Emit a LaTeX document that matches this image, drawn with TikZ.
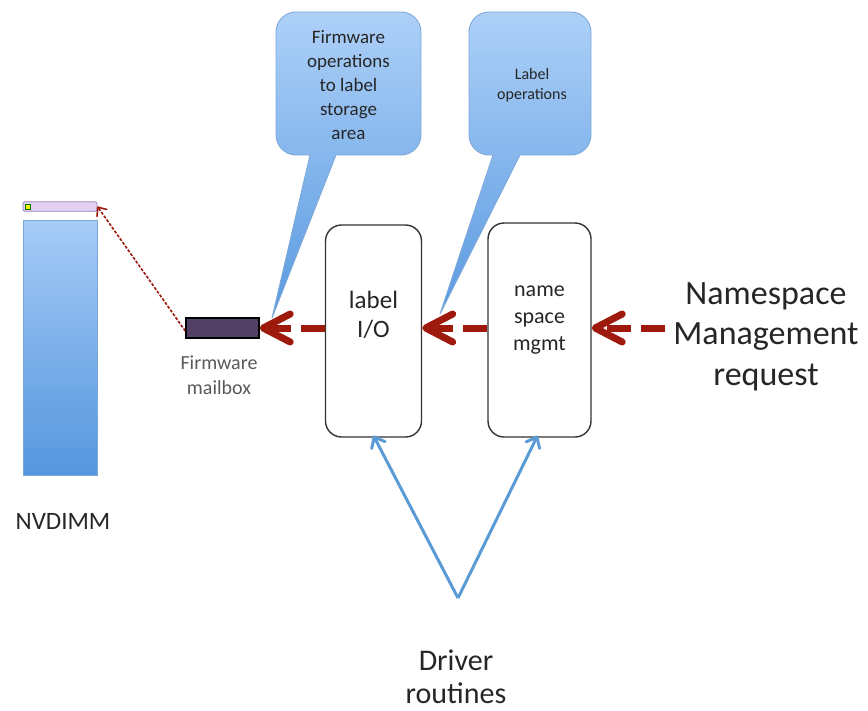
\documentclass[tikz,border=0pt]{standalone}
\usepackage{fontspec}
\setmainfont{Carlito}
\usetikzlibrary{arrows.meta}

\definecolor{txt}{HTML}{262626}
\definecolor{flowred}{HTML}{9E1A0C}
\definecolor{drvblue}{HTML}{5B9BD5}
\definecolor{dimmtop}{HTML}{A6CBF7}
\definecolor{dimmbot}{HTML}{5596DE}
\definecolor{dimmedge}{HTML}{7AA6DA}
\definecolor{striplav}{HTML}{E2D2F0}
\definecolor{stripedge}{HTML}{9A82BD}
\definecolor{mailfill}{HTML}{524066}
\definecolor{calltop}{HTML}{ADD0F8}
\definecolor{callbot}{HTML}{5A9AE0}
\definecolor{calledge}{HTML}{7FA9D9}

\tikzset{
  procbox/.style={draw=black!80, line width=1.4pt, rounded corners=16pt,
    inner sep=0pt, fill=white},
  plaintext/.style={text=txt, align=center, inner sep=0pt},
  callout/.style={top color=calltop, bottom color=callbot, draw=calledge, line width=0.9pt},
  flowarrow/.style={draw=flowred, line width=7pt, dash pattern=on 24pt off 10pt,
    -{Straight Barb[length=27pt, width=28pt, line cap=round, line join=round]}},
  fwarrow/.style={draw=flowred, line width=1.6pt, dash pattern=on 3pt off 1.6pt,
    -{Straight Barb[length=7pt, width=12pt, line cap=round, line join=round]}},
  drvarrow/.style={draw=drvblue, line width=3pt,
    -{Straight Barb[length=9pt, width=15pt, line cap=round, line join=round]}},
}

\begin{document}
\begin{tikzpicture}[x=1pt, y=-1pt]
\useasboundingbox (0,0) rectangle (868,710);

% NVDIMM module with its label strip
\node[draw=dimmedge, line width=0.8pt, top color=dimmtop, bottom color=dimmbot,
      minimum width=74pt, minimum height=255pt, inner sep=0pt] (dimm) at (60,347.5) {};
\node[draw=stripedge, line width=0.8pt, fill=striplav, rounded corners=1.5pt,
      minimum width=74pt, minimum height=9.5pt, inner sep=0pt] (strip) at (60,206.5) {};
\node[draw=black!55!green, line width=0.6pt, fill=yellow, minimum size=5pt,
      inner sep=0pt] (dot) at (28,206.5) {};
\node[plaintext, font=\fontsize{25}{29}\selectfont] (dimmtxt) at (63,521) {NVDIMM};

% firmware mailbox
\node[draw=black, line width=1.4pt, fill=mailfill, minimum width=73pt,
      minimum height=20pt, inner sep=0pt] (mb) at (222.5,328) {};
\node[plaintext, text=black!65, font=\fontsize{20}{24.5}\selectfont] (mbtxt) at (219,375)
  {Firmware\\mailbox};

% driver blocks
\node[procbox, minimum width=96pt, minimum height=212pt] (lio) at (373.5,331) {};
\node[plaintext, font=\fontsize{25}{29}\selectfont] (liotxt) at (373.5,314.5) {label\\I/O};
\node[procbox, minimum width=103pt, minimum height=214pt] (ns) at (539.5,330) {};
\node[plaintext, font=\fontsize{22}{27}\selectfont] (nstxt) at (539.5,320) {name\\space\\mgmt};

\node[plaintext, font=\fontsize{34}{40.5}\selectfont] (req) at (766,336.5)
  {Namespace\\Management\\request};

% callouts
\path[callout] (310,155) -- (296,155) arc[start angle=90, end angle=180, radius=20]
  -- (276,32) arc[start angle=180, end angle=270, radius=20]
  -- (401,12) arc[start angle=270, end angle=360, radius=20]
  -- (421,135) arc[start angle=0, end angle=90, radius=20]
  -- (336,155) -- (272,318) -- cycle;
\node[plaintext, font=\fontsize{19}{24}\selectfont] (c1txt) at (348.5,85)
  {Firmware\\operations\\to label\\storage\\area};

\path[callout] (493,155) -- (489,155) arc[start angle=90, end angle=180, radius=20]
  -- (469,32) arc[start angle=180, end angle=270, radius=20]
  -- (571,12) arc[start angle=270, end angle=360, radius=20]
  -- (591,135) arc[start angle=0, end angle=90, radius=20]
  -- (520,155) -- (440,314) -- cycle;
\node[plaintext, font=\fontsize{16}{20}\selectfont] (c2txt) at (532,85)
  {Label\\operations};

% request flow
\draw[flowarrow] (req.west |- 0,328) ++(-8,0) coordinate (reqtail) -- (ns.east |- reqtail);
\draw[flowarrow] (ns.west |- 0,328) -- (lio.east |- 0,328);
\draw[flowarrow] (lio.west |- 0,328) -- (mb.east);
\draw[fwarrow] ([yshift=-3pt]mb.west) -- (strip.east);

% driver routines
\node[plaintext, font=\fontsize{30}{33}\selectfont] (drv) at (456,676.5) {Driver\\routines};
\coordinate (apex) at (458,598);
\draw[drvarrow] (apex) -- ([yshift=2pt]lio.south);
\draw[drvarrow] (apex) -- ([yshift=2pt,xshift=-2pt]ns.south);
\end{tikzpicture}
\end{document}
